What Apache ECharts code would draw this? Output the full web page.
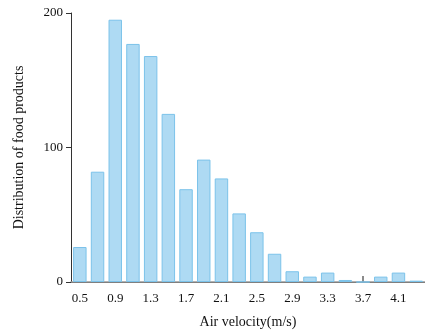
<!DOCTYPE html>
<html>
<head>
<meta charset="utf-8">
<script src="https://cdn.jsdelivr.net/npm/echarts@6/dist/echarts.min.js"></script>
<style>
  html, body { margin: 0; padding: 0; background: #fff; }
  #chart { width: 425px; height: 334px; }
</style>
</head>
<body>
<div id="chart"></div>
<script>
const velocities = ["0.5", "0.7", "0.9", "1.1", "1.3", "1.5", "1.7", "1.9", "2.1", "2.3",
  "2.5", "2.7", "2.9", "3.1", "3.3", "3.5", "3.7", "3.9", "4.1", "4.3"];
const counts = [26, 82, 195, 177, 168, 125, 69, 91, 77, 51,
  37, 21, 8, 4, 7, 1.5, 0, 4, 7, 1];
const yTicks = [0, 100, 200];

const font = "Liberation Serif";
const chart = echarts.init(document.getElementById("chart"));
chart.setOption({
  animation: false,
  grid: { left: 71, top: 13, width: 354, bottom: 51, containLabel: false },
  xAxis: [
    {
      type: "category",
      data: velocities,
      name: "Air velocity(m/s)",
      nameLocation: "middle",
      nameGap: 33,
      nameTextStyle: { fontFamily: font, fontSize: 14, color: "#111" },
      axisLine: { onZero: false, lineStyle: { color: "#333", width: 1 } },
      axisTick: { show: true, inside: true, alignWithLabel: true, interval: 1, length: 6, lineStyle: { color: "#666", width: 1.5 } },
      axisLabel: { interval: 1, margin: 10, fontFamily: font, fontSize: 13, color: "#111" }
    },
    {
      type: "category",
      data: velocities,
      position: "top",
      axisLine: { lineStyle: { color: "#999", width: 1.5 } },
      axisTick: { show: false },
      axisLabel: { show: false }
    }
  ],
  yAxis: {
    type: "value",
    min: yTicks[0],
    max: yTicks[yTicks.length - 1],
    interval: 100,
    name: "Distribution of food products",
    nameLocation: "middle",
    nameGap: 45,
    nameTextStyle: { fontFamily: font, fontSize: 14, color: "#111" },
    axisLine: { show: true, lineStyle: { color: "#333", width: 1 } },
    axisTick: { show: true, length: 5, lineStyle: { color: "#333" } },
    axisLabel: { margin: 8, fontFamily: font, fontSize: 13, color: "#111" },
    splitLine: { show: false }
  },
  series: [{
    type: "bar",
    data: counts,
    barCategoryGap: "24%",
    itemStyle: { color: "#aedaf3", borderColor: "#7cc3ea", borderWidth: 1 }
  }]
});
</script>
</body>
</html>
